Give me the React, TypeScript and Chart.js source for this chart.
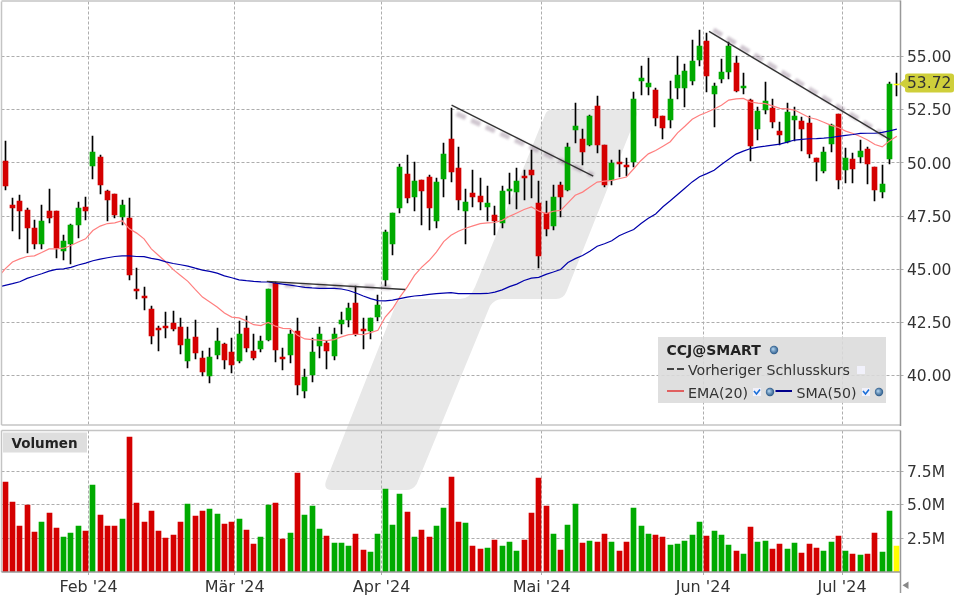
import { useEffect, useRef } from "react";
import { Chart, registerables } from "chart.js";
Chart.register(...registerables);

const FONT = '"DejaVu Sans", sans-serif';
const RED = "#d40000";
const GREEN = "#00aa00";
const LAST = "#ffff00";
const GRID = "#adadad";
const TEXT = "#333333";

// one entry per trading day
const opens = [
  50.11, 48.04, 48.23, 47.81, 46.96, 46.17, 47.76, 47.76, 45.88, 46.21,
  47.06, 47.95, 49.87, 50.3, 48.7, 48.56, 47.48, 47.39, 44.05, 43.72,
  43.11, 42.22, 42.32, 42.46, 42.27, 40.67, 41.8, 40.81, 39.97, 40.95,
  41.47, 41.1, 40.67, 42.22, 41.14, 41.24, 41.66, 44.37, 40.86, 40.95,
  42.08, 39.26, 40.0, 41.38, 41.52, 40.91, 42.41, 42.6, 43.4, 42.18,
  42.08, 42.74, 44.48, 46.21, 47.86, 49.5, 48.42, 49.22, 49.36, 47.29,
  49.27, 51.11, 49.78, 47.76, 48.57, 48.43, 47.91, 47.54, 47.16, 48.67,
  48.62, 49.37, 49.65, 48.1, 47.63, 47.02, 48.95, 48.71, 51.53, 51.11,
  50.83, 52.7, 50.83, 49.18, 50.07, 49.89, 50.07, 53.88, 53.56, 53.45,
  52.23, 52.0, 53.51, 53.51, 53.84, 54.87, 55.72, 53.24, 53.95, 54.28,
  54.7, 53.52, 52.96, 51.59, 52.49, 52.58, 51.5, 50.98, 52.02, 51.97,
  51.88, 50.23, 49.62, 50.89, 52.3, 49.66, 50.18, 50.27, 50.65, 49.8,
  48.63, 50.18, 53.68,
];
const closes = [
  48.94, 47.9, 47.76, 46.96, 46.17, 47.29, 47.43, 45.98, 46.35, 47.06,
  47.86, 47.72, 50.53, 48.98, 48.28, 47.57, 48.04, 44.71, 43.96, 43.63,
  41.85, 42.13, 42.22, 42.18, 41.42, 41.71, 41.05, 40.16, 40.86, 41.61,
  40.72, 40.49, 41.94, 41.28, 40.81, 41.61, 44.05, 41.19, 40.77, 41.94,
  39.55, 39.92, 41.1, 41.94, 41.14, 41.94, 42.6, 43.18, 41.94, 42.08,
  42.69, 43.3, 46.73, 47.67, 49.83, 48.33, 49.17, 48.7, 47.86, 49.12,
  50.44, 49.56, 48.28, 48.18, 48.38, 48.15, 48.1, 47.26, 48.67, 48.76,
  49.14, 49.28, 49.42, 45.61, 46.88, 48.38, 48.38, 50.73, 51.72, 50.54,
  52.23, 50.87, 48.95, 49.98, 49.93, 49.79, 53.03, 53.98, 53.75, 52.14,
  51.67, 52.99, 54.12, 54.31, 54.78, 55.49, 54.08, 53.62, 54.28, 55.5,
  53.38, 53.62, 50.79, 52.44, 52.91, 51.92, 51.31, 52.39, 52.21, 51.59,
  50.42, 50.04, 50.51, 51.78, 49.19, 50.23, 49.71, 50.56, 49.95, 48.72,
  49.0, 53.71, 53.72,
];
const highs = [
  51.05, 48.36, 48.51, 47.89, 47.34, 48.04, 48.79, 47.76, 46.59, 47.15,
  48.18, 48.42, 51.28, 50.39, 48.75, 48.56, 48.28, 48.33, 45.04, 44.15,
  43.26, 42.32, 42.97, 43.02, 42.69, 42.27, 42.6, 41.14, 41.28, 42.22,
  41.52, 41.75, 42.55, 42.79, 41.94, 41.85, 44.05, 44.41, 41.28, 42.13,
  42.69, 40.3, 41.75, 42.27, 41.61, 42.22, 42.97, 43.4, 44.19, 42.69,
  42.69, 43.77, 46.87, 47.67, 49.97, 50.39, 50.06, 49.22, 49.45, 49.31,
  50.92, 52.61, 50.77, 48.79, 49.65, 49.28, 48.9, 47.96, 48.9, 49.51,
  49.75, 49.65, 50.59, 49.14, 48.2, 48.95, 49.09, 50.92, 52.8, 51.62,
  52.28, 53.17, 50.83, 50.12, 50.59, 50.22, 53.36, 54.55, 54.92, 53.55,
  52.23, 53.88, 55.02, 54.64, 55.77, 56.24, 56.1, 53.76, 54.89, 55.69,
  55.03, 54.23, 53.0, 52.63, 53.81, 53.0, 51.92, 52.82, 52.63, 52.16,
  52.21, 50.23, 50.75, 51.83, 52.3, 50.7, 50.46, 51.08, 50.75, 49.8,
  49.9, 53.81, 54.25,
];
const lows = [
  48.75, 46.79, 46.42, 45.76, 45.95, 45.95, 47.17, 45.52, 45.43, 45.24,
  46.49, 47.34, 49.26, 48.56, 47.25, 47.43, 47.06, 44.48, 43.58, 43.07,
  41.47, 41.14, 41.75, 42.08, 41.0, 40.34, 40.77, 39.97, 39.64, 40.77,
  40.3, 40.11, 40.58, 41.1, 40.72, 41.1, 41.61, 40.63, 40.25, 40.58,
  39.08, 38.94, 39.69, 40.81, 40.3, 40.72, 41.94, 42.27, 41.85, 41.24,
  41.71, 42.55, 44.19, 45.65, 47.67, 48.14, 47.72, 47.1, 46.87, 46.96,
  48.38, 49.09, 47.81, 46.21, 47.91, 47.77, 47.26, 46.6, 46.93, 48.06,
  47.82, 48.24, 48.34, 45.05, 46.55, 46.83, 47.45, 48.67, 50.92, 49.89,
  50.78, 50.45, 48.85, 48.95, 49.32, 49.37, 49.79, 53.22, 53.22, 51.76,
  51.11, 51.67, 53.0, 52.62, 53.65, 54.55, 53.33, 51.69, 53.76, 53.95,
  53.34, 53.24, 50.09, 51.08, 52.3, 51.64, 50.84, 50.93, 51.03, 50.56,
  50.23, 49.14, 49.52, 50.51, 48.77, 49.05, 49.05, 49.99, 49.0, 48.2,
  48.34, 49.95, 53.15,
];
// in millions
const volumes = [
  6.7, 5.2, 3.42, 4.99, 2.98, 3.72, 4.39, 3.28, 2.61, 2.9,
  3.42, 3.05, 6.48, 4.24, 3.42, 3.42, 3.95, 10.05, 5.14, 3.72,
  4.54, 3.05, 2.53, 2.75, 3.72, 5.06, 4.17, 4.54, 4.69, 4.32,
  3.57, 3.72, 3.95, 3.13, 2.08, 2.61, 4.99, 5.14, 2.46, 2.9,
  7.37, 4.24, 4.91, 3.2, 2.68, 2.16, 2.16, 1.94, 2.83, 1.64,
  1.49, 2.83, 6.18, 3.5, 5.81, 4.47, 2.61, 3.13, 2.61, 3.42,
  4.76, 7.07, 3.72, 3.65, 1.94, 1.71, 1.79, 2.38, 1.94, 2.23,
  1.56, 2.38, 4.39, 7.0, 4.91, 2.83, 1.64, 3.5, 5.06, 2.16,
  2.31, 2.23, 2.83, 2.23, 1.56, 2.23, 4.76, 3.42, 2.83, 2.75,
  2.61, 2.01, 2.08, 2.31, 2.75, 3.72, 2.68, 3.05, 2.75, 2.01,
  1.56, 1.34, 3.35, 2.23, 2.31, 1.71, 2.08, 1.71, 2.16, 1.41,
  2.08, 1.79, 1.56, 2.23, 2.68, 1.56, 1.34, 1.27, 1.34, 2.9,
  1.49, 4.54, 1.94,
];
const ema20 = [
  45.02, 45.34, 45.49, 45.6, 45.63, 45.79, 45.96, 45.96, 45.99, 46.12,
  46.28, 46.43, 46.82, 47.03, 47.15, 47.18, 47.28, 46.9, 46.7, 46.43,
  45.96, 45.65, 45.34, 44.98, 44.71, 44.43, 44.05, 43.69, 43.46, 43.22,
  42.94, 42.75, 42.71, 42.57, 42.39, 42.35, 42.5, 42.32, 42.22, 42.21,
  41.89, 41.72, 41.69, 41.66, 41.64, 41.69, 41.82, 41.92, 41.94, 41.92,
  42.02, 42.13, 42.75, 43.14, 43.69, 44.16, 44.71, 45.1, 45.41, 45.81,
  46.3, 46.6, 46.79, 46.93, 47.04, 47.15, 47.18, 47.2, 47.3, 47.49,
  47.65, 47.81, 47.93, 47.74, 47.62, 47.73, 47.77, 48.12, 48.48, 48.63,
  48.87, 49.1, 49.15, 49.18, 49.26, 49.34, 49.73, 50.12, 50.43, 50.59,
  50.79, 51.0, 51.42, 51.73, 52.06, 52.25, 52.39, 52.54, 52.72, 52.96,
  53.02, 53.04, 52.87, 52.82, 52.79, 52.69, 52.57, 52.55, 52.49, 52.32,
  52.14, 52.06, 51.92, 51.77, 51.67, 51.5, 51.39, 51.25, 51.08, 50.87,
  50.76, 51.04, 51.26,
];
const sma50 = [
  44.24, 44.32, 44.41, 44.57, 44.68, 44.79, 44.91, 44.99, 45.02, 45.09,
  45.2, 45.29, 45.4, 45.48, 45.54, 45.6, 45.63, 45.63, 45.6, 45.59,
  45.51, 45.45, 45.35, 45.27, 45.21, 45.15, 45.05, 44.96, 44.9, 44.82,
  44.69, 44.6, 44.5, 44.46, 44.43, 44.41, 44.4, 44.35, 44.3, 44.25,
  44.2, 44.15, 44.12, 44.1, 44.1, 44.1, 44.07, 44.0, 43.88, 43.74,
  43.62, 43.52, 43.51, 43.55, 43.62, 43.69, 43.74, 43.77, 43.82, 43.85,
  43.88, 43.9, 43.85, 43.85, 43.85, 43.85, 43.86, 43.92, 44.03, 44.18,
  44.3, 44.47, 44.58, 44.62, 44.76, 44.87, 44.99, 45.32, 45.5, 45.65,
  45.85, 46.08, 46.2, 46.34, 46.58, 46.73, 46.87, 47.15, 47.4, 47.6,
  47.94, 48.22, 48.52, 48.81, 49.11, 49.35, 49.5, 49.66, 49.93, 50.18,
  50.42, 50.56, 50.68, 50.75, 50.79, 50.84, 50.89, 50.98, 51.08, 51.11,
  51.14, 51.15, 51.17, 51.2, 51.25, 51.3, 51.34, 51.39, 51.4, 51.4,
  51.44, 51.51, 51.59,
];
// the day before the first candle, only its line segment shows
const emaBefore = 44.6;
const smaBefore = 44.15;

const priceTicks = [40, 42.5, 45, 47.5, 50, 52.5, 55];
const volumeTicks = [2.5, 5, 7.5];
const monthTicks = [11.4, 31.4, 51.5, 73.4, 95.5, 114.5];
const monthLabels = ["Feb '24", "Mär '24", "Apr '24", "Mai '24", "Jun '24", "Jul '24"];

// drawn trend lines and their blurred shadows, as [day, price]
const trendLines = [
  [[35.8, 44.43], [54.74, 44.05]],
  [[61.08, 52.72], [80.46, 49.38]],
  [[96.3, 56.19], [121.05, 51.1]],
];
const trendShadows = [
  [[36.05, 44.27], [53.37, 44.14]],
  [[61.77, 52.32], [80.46, 49.42]],
  [[96.9, 56.27], [120.8, 51.2]],
];

const candleColors = closes.map((c, i) =>
  i === closes.length - 1 ? LAST : c >= opens[i] ? GREEN : RED
);

// crisp candles, as in the original
const snapBars = {
  id: "snapBars",
  afterDatasetsUpdate(chart: any) {
    chart.data.datasets.forEach((ds: any, i: number) => {
      if (ds.type !== "bar") return;
      chart.getDatasetMeta(i).data.forEach((el: any) => {
        el.x = Math.floor(el.x) + 0.5;
        el.y = Math.round(el.y);
        el.base = Math.round(el.base);
      });
    });
  },
};

const blurShadows = {
  id: "blurShadows",
  beforeDatasetDraw(chart: any, args: any) {
    if (!chart.data.datasets[args.index].isShadow) return;
    chart.ctx.save();
    chart.ctx.filter = "blur(1.2px)";
  },
  afterDatasetDraw(chart: any, args: any) {
    if (!chart.data.datasets[args.index].isShadow) return;
    chart.ctx.restore();
  },
};

function line(ctx: any, x1: number, y1: number, x2: number, y2: number, color: string, width = 1) {
  ctx.strokeStyle = color;
  ctx.lineWidth = width;
  ctx.beginPath();
  ctx.moveTo(x1, y1);
  ctx.lineTo(x2, y2);
  ctx.stroke();
}

function globe(ctx: any, x: number, y: number) {
  const g = ctx.createRadialGradient(x - 1, y - 1, 0.5, x, y, 4.5);
  g.addColorStop(0, "#a8cbe8");
  g.addColorStop(1, "#1f4f80");
  ctx.fillStyle = g;
  ctx.beginPath();
  ctx.arc(x, y, 4.2, 0, Math.PI * 2);
  ctx.fill();
}

function checkBox(ctx: any, x: number, y: number) {
  ctx.fillStyle = "#f1f1fb";
  ctx.fillRect(x - 4, y - 4, 8, 8);
  ctx.strokeStyle = "#1a6fd8";
  ctx.lineWidth = 1.6;
  ctx.beginPath();
  ctx.moveTo(x - 3, y - 1);
  ctx.lineTo(x - 0.5, y + 2);
  ctx.lineTo(x + 3, y - 2.5);
  ctx.stroke();
}

const priceDecor = {
  id: "priceDecor",
  afterDraw(chart: any) {
    const { ctx } = chart;
    const { left, right, top, bottom } = chart.chartArea;
    ctx.save();
    // frame
    line(ctx, left, top - 0.5, right, top - 0.5, "#c4c4c4", 1.5);
    line(ctx, left, top, left, bottom, "#c4c4c4", 1.5);
    line(ctx, left, bottom, right, bottom, "#c4c4c4", 1.5);
    line(ctx, right, top - 1, right, bottom + 1, "#999999", 1.5);

    // last price tag
    const last = closes[closes.length - 1];
    const yLast = chart.scales.y.getPixelForValue(last);
    ctx.fillStyle = "#cfcf3a";
    ctx.beginPath();
    ctx.moveTo(899, yLast);
    ctx.lineTo(905, yLast - 5);
    ctx.lineTo(905, yLast - 8);
    ctx.quadraticCurveTo(905, yLast - 10.5, 908, yLast - 10.5);
    ctx.lineTo(951, yLast - 10.5);
    ctx.quadraticCurveTo(954, yLast - 10.5, 954, yLast - 8);
    ctx.lineTo(954, yLast + 6);
    ctx.quadraticCurveTo(954, yLast + 8.5, 951, yLast + 8.5);
    ctx.lineTo(908, yLast + 8.5);
    ctx.quadraticCurveTo(905, yLast + 8.5, 905, yLast + 6);
    ctx.lineTo(905, yLast + 4);
    ctx.closePath();
    ctx.fill();
    ctx.fillStyle = TEXT;
    ctx.font = `15.5px ${FONT}`;
    ctx.textAlign = "left";
    ctx.textBaseline = "middle";
    ctx.fillText(last.toFixed(2), 907, yLast + 0.5);

    // legend panel
    ctx.fillStyle = "rgba(219,219,219,0.88)";
    ctx.fillRect(658, 337, 228, 66);
    ctx.textBaseline = "alphabetic";
    ctx.fillStyle = "#222222";
    ctx.font = `bold 14px ${FONT}`;
    ctx.fillText("CCJ@SMART", 666.5, 355);
    globe(ctx, 774, 350);
    ctx.fillStyle = TEXT;
    ctx.font = `14.2px ${FONT}`;
    ctx.fillText("Vorheriger Schlusskurs", 688, 375);
    ctx.setLineDash([7, 3]);
    line(ctx, 667, 369, 685, 369, "#444444", 2);
    ctx.setLineDash([]);
    ctx.fillStyle = "#f1f1fb";
    ctx.fillRect(857, 366, 8, 8);
    line(ctx, 667, 391, 684, 391, "#e06060", 2);
    ctx.fillStyle = TEXT;
    ctx.fillText("EMA(20)", 688, 397.5);
    checkBox(ctx, 757, 392);
    globe(ctx, 770, 392);
    line(ctx, 775.5, 391, 792, 391, "#00008b", 2);
    ctx.fillStyle = TEXT;
    ctx.fillText("SMA(50)", 796.5, 397.5);
    checkBox(ctx, 866, 392);
    globe(ctx, 879, 392);
    ctx.restore();
  },
};

const volumeDecor = {
  id: "volumeDecor",
  afterDraw(chart: any) {
    const { ctx } = chart;
    const { left, right, top, bottom } = chart.chartArea;
    ctx.save();
    line(ctx, left, top, right, top, "#c4c4c4", 1.5);
    line(ctx, left, top, left, bottom, "#c4c4c4", 1.5);
    line(ctx, left, bottom, right, bottom, "#999999", 1.5);
    line(ctx, right, top, right, 165, "#999999", 1.5);

    ctx.fillStyle = "#dedede";
    ctx.fillRect(3, top + 2, 84, 20);
    ctx.fillStyle = "#222222";
    ctx.font = `bold 13.5px ${FONT}`;
    ctx.textAlign = "left";
    ctx.textBaseline = "alphabetic";
    ctx.fillText("Volumen", 11.5, top + 17.5);

    // scroll arrow under the axis
    ctx.fillStyle = "#888888";
    ctx.beginPath();
    ctx.moveTo(902.5, 157.3);
    ctx.lineTo(908.5, 153.5);
    ctx.lineTo(908.5, 161);
    ctx.closePath();
    ctx.fill();
    ctx.restore();
  },
};

function xAxis(showLabels: boolean) {
  return {
    type: "linear",
    offset: false,
    min: -0.5,
    max: 122.5,
    afterBuildTicks(scale: any) {
      scale.ticks = monthTicks.map((value) => ({ value }));
    },
    afterFit(scale: any) {
      scale.height = showLabels ? 28 : 0;
      scale.paddingLeft = 0;
      scale.paddingRight = 0;
    },
    grid: { offset: false, color: GRID, tickColor: GRID, drawTicks: showLabels, tickLength: 3 },
    border: { display: false, dash: [3, 2] },
    ticks: {
      display: showLabels,
      autoSkip: false,
      maxRotation: 0,
      padding: 3,
      color: TEXT,
      font: { family: FONT, size: 16 },
      callback: (_v: number, i: number) => monthLabels[i],
    },
  };
}

function yAxis(list: number[], min: number, max: number, format: (v: number) => string) {
  return {
    position: "right",
    min,
    max,
    afterBuildTicks(scale: any) {
      scale.ticks = list.map((value) => ({ value }));
    },
    afterFit(scale: any) {
      scale.width = 59.5;
      scale.paddingTop = 0;
      scale.paddingBottom = 0;
    },
    grid: { color: GRID, tickColor: GRID, tickLength: 3 },
    border: { display: false, dash: [3, 2] },
    ticks: {
      padding: 3.5,
      labelOffset: 1.5,
      color: TEXT,
      font: { family: FONT, size: 15.5 },
      callback: format,
    },
  };
}

function points(values: number[], before: number) {
  return [{ x: -1, y: before }, ...values.map((y, x) => ({ x, y }))];
}

function segment(pair: number[][]) {
  return pair.map(([x, y]) => ({ x, y }));
}

export default function App() {
  const priceRef = useRef<HTMLCanvasElement>(null);
  const volumeRef = useRef<HTMLCanvasElement>(null);

  useEffect(() => {
    const price = new Chart(priceRef.current, {
      type: "bar",
      plugins: [snapBars, blurShadows, priceDecor],
      data: {
        datasets: [
          ...trendShadows.map((pair) => ({
            type: "line",
            isShadow: true,
            data: segment(pair),
            borderColor: "rgba(150,130,150,0.45)",
            borderWidth: 5,
            borderDash: [10, 6],
            pointRadius: 0,
            order: 5,
          })),
          {
            type: "bar",
            label: "Docht",
            data: highs.map((h, x) => ({ x, y: [lows[x], h] })),
            backgroundColor: "#000000",
            barThickness: 1,
            grouped: false,
            order: 4,
          },
          {
            type: "bar",
            label: "Kerze",
            data: closes.map((c, x) => ({ x, y: [opens[x], c] })),
            backgroundColor: candleColors,
            barThickness: 5,
            grouped: false,
            order: 3,
          },
          {
            type: "line",
            label: "EMA(20)",
            data: points(ema20, emaBefore),
            borderColor: "#ff7f7f",
            borderWidth: 1.2,
            pointRadius: 0,
            order: 2,
          },
          {
            type: "line",
            label: "SMA(50)",
            data: points(sma50, smaBefore),
            borderColor: "#0000aa",
            borderWidth: 1.2,
            pointRadius: 0,
            order: 1,
          },
          ...trendLines.map((pair) => ({
            type: "line",
            data: segment(pair),
            borderColor: "#333333",
            borderWidth: 1.4,
            pointRadius: 0,
            order: 0,
          })),
        ],
      },
      options: {
        responsive: false,
        animation: false,
        layout: { padding: { top: 1.5, left: 1.5, right: 0, bottom: 3 } },
        plugins: { legend: { display: false }, tooltip: { enabled: false } },
        scales: {
          x: xAxis(false),
          y: yAxis(priceTicks, 37.67, 57.6, (v) => v.toFixed(2)),
        },
      },
    });

    const volume = new Chart(volumeRef.current, {
      type: "bar",
      plugins: [snapBars, volumeDecor],
      data: {
        datasets: [
          {
            type: "bar",
            label: "Volumen",
            data: volumes.map((y, x) => ({ x, y })),
            backgroundColor: candleColors,
            barThickness: 5,
          },
        ],
      },
      options: {
        responsive: false,
        animation: false,
        layout: { padding: { top: 2.5, left: 1.5, right: 0, bottom: 0 } },
        plugins: { legend: { display: false }, tooltip: { enabled: false } },
        scales: {
          x: xAxis(true),
          y: yAxis(volumeTicks, 0, 10.55, (v) => `${v.toFixed(1)}M`),
        },
      },
    });

    return () => {
      price.destroy();
      volume.destroy();
    };
  }, []);

  return (
    <div style={{ position: "absolute", left: 0, top: 0, width: 960, height: 600, overflow: "hidden", background: "#ffffff" }}>
      {/* grey logo behind both panels */}
      <svg width={960} height={600} style={{ position: "absolute", left: 0, top: 0 }}>
        <path
          fill="#e8e8e8"
          d="M552 109.5 L631 109.5 Q639 109.5 636 117 L566.5 291.5 Q563.5 299 556 299 L502 299 Q495 299 490 306 L416.7 484 Q413 490 406 490 L332 490 Q323 490 326 481 L394 309 Q397 299 405 299 L460 299 Q470 299 475 287 L545 115 Q547 109.5 552 109.5 Z"
        />
      </svg>
      <canvas ref={priceRef} width={960} height={428} style={{ position: "absolute", left: 0, top: 0 }} />
      <canvas ref={volumeRef} width={960} height={172} style={{ position: "absolute", left: 0, top: 428 }} />
    </div>
  );
}
